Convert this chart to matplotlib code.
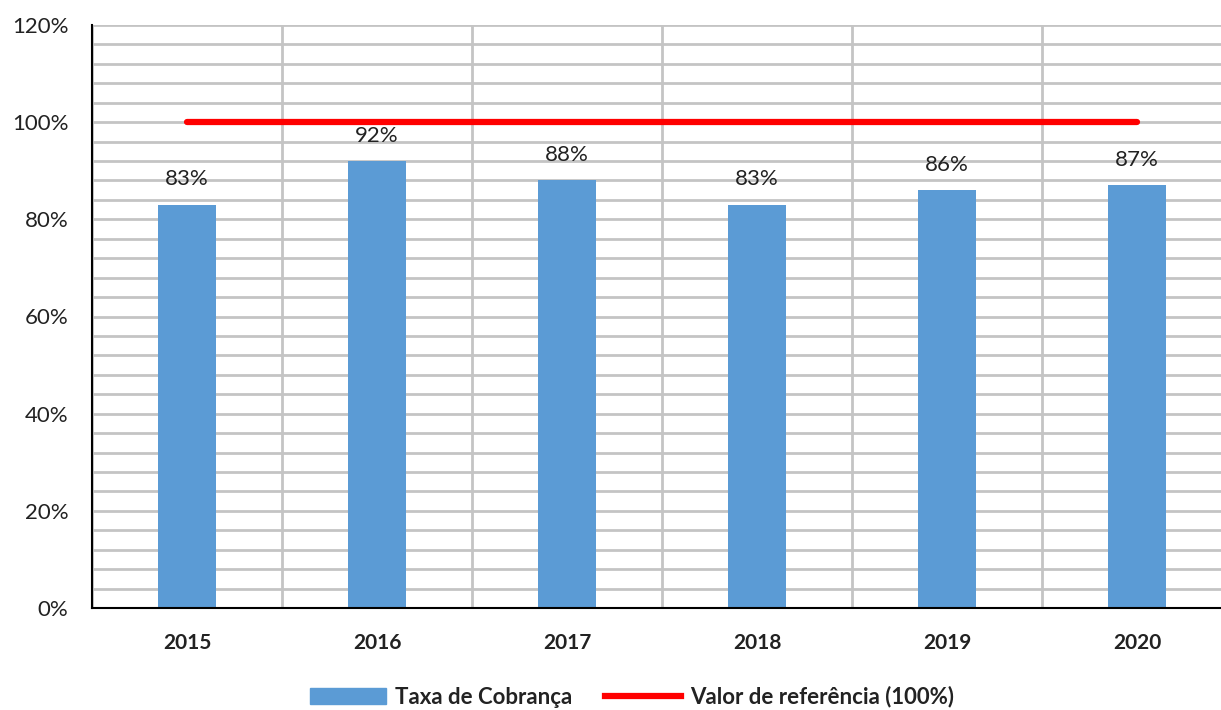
import numpy as np
import matplotlib.pyplot as plt
from matplotlib.ticker import MultipleLocator, FuncFormatter
from matplotlib.patches import Patch
from matplotlib.lines import Line2D

anos = ["2015", "2016", "2017", "2018", "2019", "2020"]
taxa_cobranca = [83, 92, 88, 83, 86, 87]
valor_referencia = [100, 100, 100, 100, 100, 100]

plt.rcParams['font.family'] = ['Lato', 'DejaVu Sans']

fig = plt.figure(figsize=(12.21, 7.10), dpi=100)
ax = fig.add_axes([92 / 1221, 1 - 608 / 710, 1140 / 1221, 583 / 710])

x = np.arange(len(anos))
ax.bar(x, taxa_cobranca, width=0.31, color="#5b9bd5", zorder=3)
ax.plot(x, valor_referencia, color="#ff0000", linewidth=4.5,
        solid_capstyle="round", zorder=4)

# rótulos de dados acima das barras
for xi, v in zip(x, taxa_cobranca):
    ax.annotate(f"{v}%", xy=(xi, v), xytext=(0, 11), textcoords="offset points",
                ha="center", va="bottom", fontsize=16, color="#222222")

ax.set_xlim(-0.5, len(anos) - 0.5)
ax.set_ylim(0, 120)
ax.yaxis.set_major_locator(MultipleLocator(20))
ax.yaxis.set_minor_locator(MultipleLocator(4))
ax.yaxis.set_major_formatter(FuncFormatter(lambda v, p: f"{v:.0f}%"))
ax.set_xticks(x)
ax.set_xticklabels(anos, fontsize=15, fontweight="bold", color="#222222")
ax.set_xticks(np.arange(len(anos) + 1) - 0.5, minor=True)
ax.tick_params(axis="y", labelsize=16, labelcolor="#222222", length=0, which="both", pad=17)
ax.tick_params(axis="x", length=0, which="both", pad=18)

ax.grid(axis="y", which="both", color="#c4c4c4", linewidth=2, zorder=0)
ax.grid(axis="x", which="minor", color="#c4c4c4", linewidth=2, zorder=0)
ax.grid(axis="x", which="major", visible=False)

for pos in ["top", "right"]:
    ax.spines[pos].set_visible(False)
for pos in ["left", "bottom"]:
    ax.spines[pos].set_color("black")
    ax.spines[pos].set_linewidth(1.5)
    ax.spines[pos].set_zorder(5)

handles = [Patch(color="#5b9bd5", label="Taxa de Cobrança"),
           Line2D([0], [0], color="#ff0000", linewidth=4.5, label="Valor de referência (100%)")]
fig.legend(handles=handles, loc="center", bbox_to_anchor=(632 / 1221, 1 - 697 / 710), ncol=2,
           frameon=False, prop={"size": 16, "weight": "bold"}, labelcolor="#222222",
           handlelength=3.4, handleheight=0.7, columnspacing=1.5, handletextpad=0.4)

fig.savefig("out.png", dpi=100)
